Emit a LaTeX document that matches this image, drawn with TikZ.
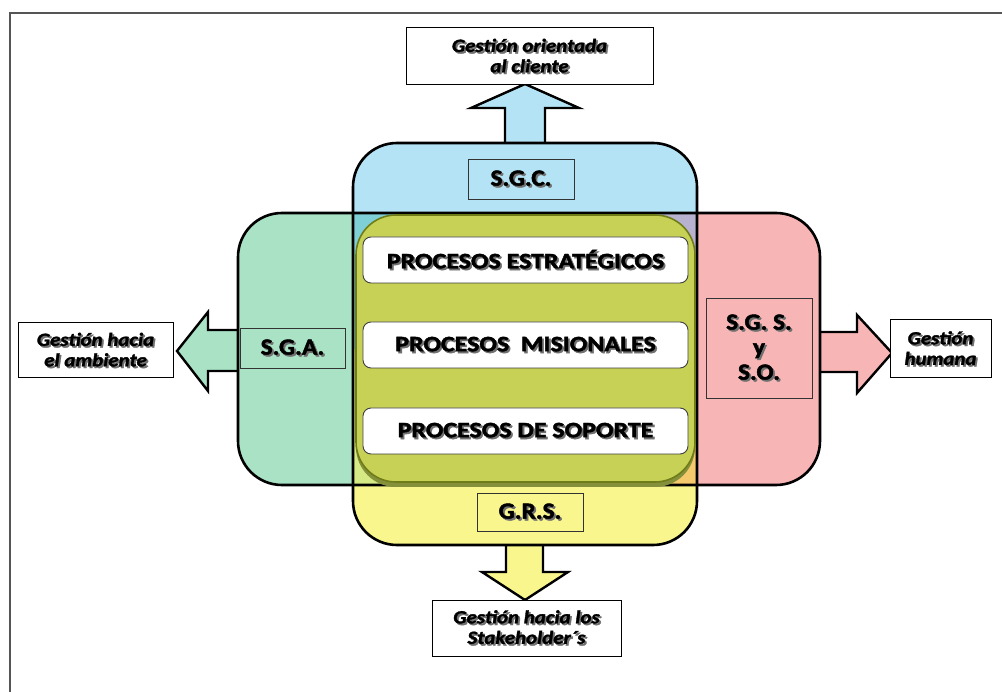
\documentclass[tikz,border=0pt]{standalone}
\usepackage{fontspec}
\setmainfont{Carlito}
\newfontfamily\procfont{Carlito}[FakeStretch=1.18, FakeBold=2]
\newfontfamily\tagfont{Carlito}[FakeStretch=1.1, FakeBold=2]
\newfontfamily\outfont{Carlito}[FakeStretch=1.13, FakeBold=1.8]
\usetikzlibrary{calc}

\definecolor{sgcblue}{HTML}{B4E3F5}
\definecolor{sgagreen}{HTML}{A9E2C5}
\definecolor{sgspink}{HTML}{F8B5B5}
\definecolor{grsyellow}{HTML}{F8F68C}
\definecolor{olivefill}{HTML}{C6D155}
\definecolor{oliveedge}{HTML}{6F7C18}
\definecolor{mixTL}{HTML}{7FD0D6}
\definecolor{mixTR}{HTML}{B7B2CF}
\definecolor{mixBL}{HTML}{D5EA84}
\definecolor{mixBR}{HTML}{F5C96C}
\definecolor{framegray}{HTML}{555555}
\definecolor{shadowgray}{HTML}{707070}

% text with a grey drop shadow
\newcommand\shd[1]{\makebox[0pt][l]{\hspace{1.8pt}\raisebox{-1.8pt}{\textcolor{shadowgray}{#1}}}#1}

\begin{document}
\begin{tikzpicture}[x=1pt,y=-1pt,
  band/.style={line width=2.6pt, draw=black, rounded corners=44},
  blockarrow/.style={line width=2.4pt, draw=black, line join=miter},
  outbox/.style={draw=black, line width=1pt, fill=white, align=center,
    inner sep=0pt, font=\outfont\bfseries\itshape\fontsize{18.5}{20.5}\selectfont},
  tagbox/.style={draw=black!80, line width=0.9pt, inner sep=0pt, align=center,
    font=\tagfont\bfseries\fontsize{23}{25}\selectfont},
  procbox/.style={draw=black!75, line width=0.9pt, fill=white, rounded corners=8,
    minimum width=325, minimum height=46, inner sep=0pt,
    font=\procfont\bfseries\fontsize{22}{26}\selectfont}]

\useasboundingbox (0,0) rectangle (1002,692);

% page frame (top and left edges)
\draw[framegray, line width=2pt] (1002,13) -- (10,13) -- (10,692);

% key points of the two crossing bands
\coordinate (vTL) at (353,143);
\coordinate (vBR) at (697,545);
\coordinate (hTL) at (238,213);
\coordinate (hBR) at (820,485);

% block arrows leaving the bands
\filldraw[blockarrow, fill=sgcblue] (505,145) -- (505,108) -- (471,108) -- (525,84)
  -- (579,108) -- (545,108) -- (545,145);
\filldraw[blockarrow, fill=sgagreen] (240,330) -- (208,330) -- (208,312) -- (177,351)
  -- (208,391) -- (208,371) -- (240,371);
\filldraw[blockarrow, fill=sgspink] (818,332) -- (857,332) -- (857,315) -- (892,353)
  -- (857,393) -- (857,372) -- (818,372);
\filldraw[blockarrow, fill=grsyellow] (506,543) -- (506,572) -- (482,572) -- (525,600)
  -- (568,572) -- (543,572) -- (543,543);

% vertical band: blue above, yellow below
\fill[sgcblue, rounded corners=44] (vTL) rectangle (vBR);
\begin{scope}
  \clip (0,349) rectangle (1002,692);
  \fill[grsyellow, rounded corners=44] (vTL) rectangle (vBR);
\end{scope}

% horizontal band: green left, pink right
\begin{scope}
  \clip (0,0) rectangle (525,692);
  \fill[sgagreen, rounded corners=44] (hTL) rectangle (hBR);
\end{scope}
\begin{scope}
  \clip (525,0) rectangle (1002,692);
  \fill[sgspink, rounded corners=44] (hTL) rectangle (hBR);
\end{scope}

% overlap square with its blended quadrants
\fill[mixTL] (353,213) rectangle (525,349);
\fill[mixTR] (525,213) rectangle (697,349);
\fill[mixBL] (353,349) rectangle (525,485);
\fill[mixBR] (525,349) rectangle (697,485);

% band outlines
\draw[band] (vTL) rectangle (vBR);
\draw[band] (hTL) rectangle (hBR);

% central process area
\fill[oliveedge!85, rounded corners=40] (356,218) rectangle (695,487);
\filldraw[fill=olivefill, draw=oliveedge, line width=1.6pt, rounded corners=40]
  (356,215) rectangle (695,482);

% process boxes
\node[procbox] (pe) at (525.5,260) {\shd{PROCESOS ESTRATÉGICOS}};
\node[procbox] (pm) at (525.5,345) {\shd{PROCESOS\ \ MISIONALES}};
\node[procbox] (ps) at (525.5,431) {\shd{PROCESOS DE SOPORTE}};

% system tags
\node[tagbox, fill=sgcblue, minimum width=106, minimum height=40] (sgc) at (521,179) {\shd{S.G.C.}};
\node[tagbox, fill=sgagreen, minimum width=105, minimum height=40] (sga) at (292.5,348) {\shd{S.G.A.}};
\node[tagbox, fill=sgspink, minimum width=106, minimum height=100] (sgs) at (759,348)
  {\shd{S.G. S.}\\\shd{y}\\\shd{S.O.}};
\node[tagbox, fill=grsyellow, minimum width=106, minimum height=38] (grs) at (530,512) {\shd{G.R.S.}};

% management outcomes
\node[outbox, minimum width=247, minimum height=57] (cli) at (529.5,56.5)
  {\shd{Gestión orientada}\\\shd{al cliente}};
\node[outbox, minimum width=155, minimum height=55] (amb) at (95.5,350.5)
  {\shd{Gestión hacia}\\\shd{el ambiente}};
\node[outbox, minimum width=101, minimum height=58] (hum) at (940.5,349)
  {\shd{Gestión}\\\shd{humana}};
\node[outbox, minimum width=189, minimum height=56] (stk) at (526.5,628)
  {\shd{Gestión hacia los}\\\shd{Stakeholder´s}};

\end{tikzpicture}
\end{document}
